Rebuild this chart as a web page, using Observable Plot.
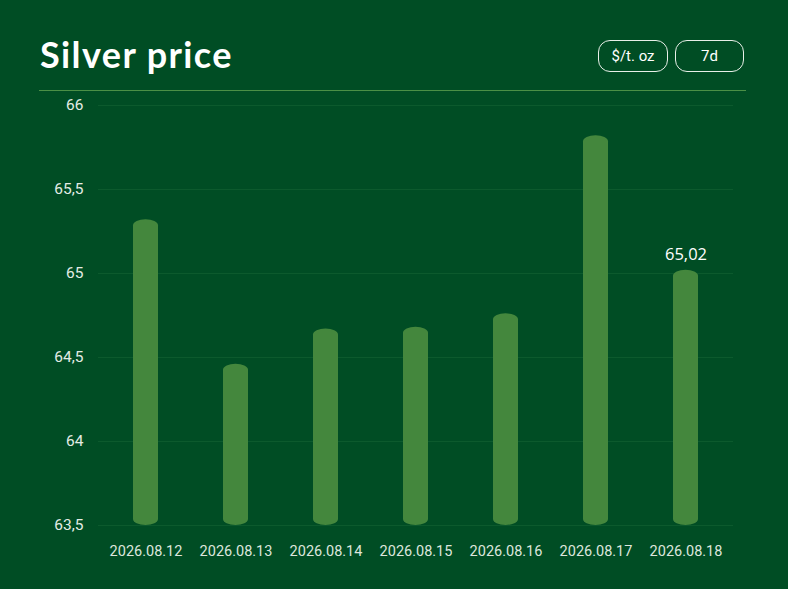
<!DOCTYPE html>
<html>
<head>
<meta charset="utf-8">
<script src="https://cdn.jsdelivr.net/npm/d3@7"></script>
<script src="https://cdn.jsdelivr.net/npm/@observablehq/plot@0.6"></script>
<style>
  html, body { margin: 0; padding: 0; background: #004d24; }
  #wrap { position: relative; width: 788px; height: 589px; background: #004d24; overflow: hidden; }
  #header { position: relative; height: 92px; }
  #title { position: absolute; left: 40px; top: 32px; font-family: Lato, sans-serif; font-weight: 700; font-size: 36px; color: #ffffff; letter-spacing: 1.4px; }
  .pill { position: absolute; top: 40px; height: 30px; border: 1px solid #e8efe8; border-radius: 12px; color: #ffffff; font-family: Roboto, sans-serif; font-size: 15px; line-height: 30px; text-align: center; box-sizing: content-box; }
  #rule { position: absolute; left: 39px; top: 90px; width: 707px; height: 1px; background: #4b9046; }
  svg { display: block; }
</style>
</head>
<body>
<div id="wrap">
  <div id="header">
    <div id="title">Silver price</div>
    <div class="pill" id="unit" style="left:598px; width:68px;">$/t. oz</div>
    <div class="pill" id="range" style="left:675px; width:67px;">7d</div>
    <div id="rule"></div>
  </div>
  <div id="chart"></div>
</div>
<script>
const dates = ["2026.08.12", "2026.08.13", "2026.08.14", "2026.08.15", "2026.08.16", "2026.08.17", "2026.08.18"];
const prices = [65.32, 64.46, 64.67, 64.68, 64.76, 65.82, 65.02];
const yTicks = [63.5, 64, 64.5, 65, 65.5, 66];
const yBase = 63.5;
const labelIndex = 6;

const data = dates.map((d, i) => ({date: d, price: prices[i]}));
const fmt = v => String(v).replace(".", ",");

const chart = Plot.plot({
  width: 788,
  height: 497,
  marginLeft: 98,
  marginRight: 55,
  marginTop: 13,
  marginBottom: 64,
  style: {background: "transparent", color: "#dde6dd", fontFamily: "Roboto, sans-serif", fontSize: "14.5px"},
  x: {domain: dates, paddingInner: 0.72, paddingOuter: 0.36, label: null},
  y: {domain: [63.5, 66], ticks: yTicks, label: null},
  marks: [
    Plot.gridY(yTicks, {stroke: "#0c5a2d", strokeOpacity: 1, strokeWidth: 1}),
    Plot.barY(data, {x: "date", y1: yBase, y2: "price", fill: "#44873d", rx: 12.5, ry: 6}),
    Plot.axisY({ticks: yTicks, tickSize: 0, tickPadding: 15, tickFormat: fmt, fontSize: 15.5, fill: "#e4ece4", label: null}),
    Plot.axisX({tickSize: 0, tickPadding: 20, fontSize: 14.5, fill: "#dde6dd", label: null}),
    Plot.text([data[labelIndex]], {x: "date", y: "price", text: d => fmt(d.price), dy: -10, lineAnchor: "bottom", fill: "#ffffff", fontSize: 16.5, fontFamily: "'Open Sans', sans-serif"})
  ]
});
document.getElementById("chart").appendChild(chart);
</script>
</body>
</html>
